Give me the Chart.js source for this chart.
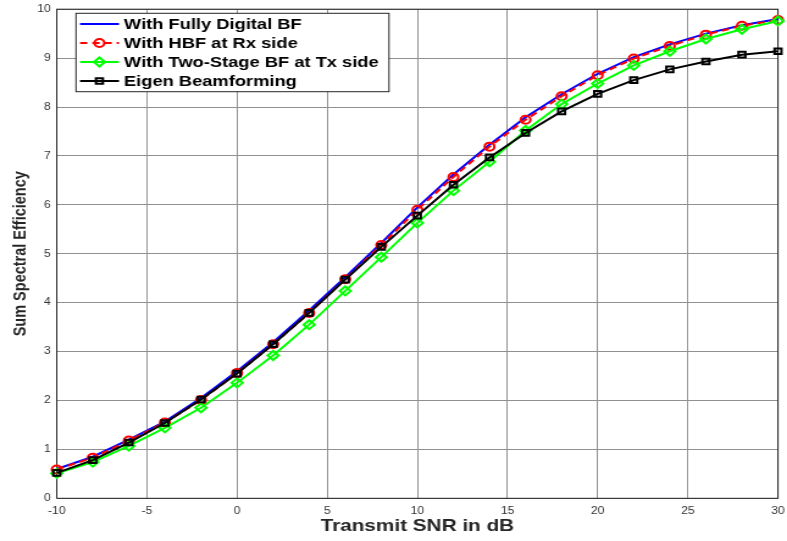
<!DOCTYPE html>
<html>
<head>
<meta charset="utf-8">
<script src="https://cdn.jsdelivr.net/npm/chart.js@4.4.0/dist/chart.umd.min.js"></script>
<style>
  html, body { margin: 0; padding: 0; background: #fff; overflow: hidden; }
  /* the reference figure is stretched sideways, so draw narrower and widen */
  #wrap { width: 645px; height: 541px; transform: scale(1.2202, 1); transform-origin: 0 0; }
</style>
</head>
<body>
<div id="wrap"><canvas id="chart" width="645" height="541"></canvas></div>
<script>
// data
const snr = [-10, -8, -6, -4, -2, 0, 2, 4, 6, 8, 10, 12, 14, 16, 18, 20, 22, 24, 26, 28, 30];
const fullyDigital = [0.60, 0.85, 1.20, 1.57, 2.05, 2.60, 3.19, 3.84, 4.52, 5.22, 5.95, 6.62, 7.23, 7.79, 8.26, 8.68, 9.02, 9.28, 9.50, 9.67, 9.80];
const hbfRx = [0.59, 0.83, 1.18, 1.55, 2.01, 2.56, 3.15, 3.79, 4.48, 5.18, 5.90, 6.57, 7.19, 7.74, 8.22, 8.65, 8.99, 9.25, 9.48, 9.66, 9.78];
const twoStageTx = [0.51, 0.74, 1.07, 1.44, 1.85, 2.36, 2.92, 3.55, 4.24, 4.93, 5.63, 6.29, 6.88, 7.52, 8.06, 8.48, 8.85, 9.14, 9.39, 9.59, 9.76];
const eigenBf = [0.52, 0.78, 1.14, 1.54, 2.02, 2.55, 3.15, 3.79, 4.47, 5.14, 5.78, 6.41, 6.97, 7.47, 7.91, 8.27, 8.55, 8.77, 8.93, 9.07, 9.14];

const xTicks = [-10, -5, 0, 5, 10, 15, 20, 25, 30];
const yTicks = [0, 1, 2, 3, 4, 5, 6, 7, 8, 9, 10];

const seriesNames = ['With Fully Digital BF', 'With HBF at Rx side', 'With Two-Stage BF at Tx side', 'Eigen Beamforming'];

const toPts = (ys) => ys.map((y, i) => ({ x: snr[i], y: y }));

const series = [
  { label: seriesNames[0], data: toPts(fullyDigital), color: '#0000ff', style: false, radius: 0, dash: [], order: 4 },
  { label: seriesNames[1], data: toPts(hbfRx), color: '#ff0000', style: 'circle', radius: 4, dash: [6, 4], order: 3 },
  { label: seriesNames[2], data: toPts(twoStageTx), color: '#00ff00', style: 'rectRot', radius: 4.5, dash: [], order: 2 },
  { label: seriesNames[3], data: toPts(eigenBf), color: '#000000', style: 'rect', radius: 4, dash: [], order: 1 }
];

function drawMarker(ctx, style, x, y, r) {
  ctx.beginPath();
  if (style === 'circle') {
    ctx.arc(x, y, r, 0, Math.PI * 2);
  } else if (style === 'rectRot') {
    ctx.moveTo(x - r, y); ctx.lineTo(x, y - r); ctx.lineTo(x + r, y); ctx.lineTo(x, y + r); ctx.closePath();
  } else if (style === 'rect') {
    const s = r * Math.SQRT1_2;
    ctx.rect(x - s, y - s, 2 * s, 2 * s);
  }
  ctx.stroke();
}

// axes box + legend inside the plot
const frameLegend = {
  id: 'frameLegend',
  beforeDatasetsDraw(chart) {
    const { ctx, chartArea: a } = chart;
    ctx.save();
    ctx.strokeStyle = '#262626';
    ctx.lineWidth = 1;
    ctx.strokeRect(a.left, a.top, a.right - a.left, a.bottom - a.top);
    ctx.restore();
  },
  afterDraw(chart) {
    const ctx = chart.ctx;
    const bx = 62.3, by = 13.3, bw = 256.5, bh = 78.4;
    ctx.save();
    ctx.fillStyle = '#fff';
    ctx.fillRect(bx, by, bw, bh);
    ctx.strokeStyle = '#262626';
    ctx.lineWidth = 1;
    ctx.strokeRect(bx, by, bw, bh);
    ctx.font = 'bold 15px "Liberation Sans", Arial, sans-serif';
    ctx.textBaseline = 'middle';
    series.forEach((s, i) => {
      const y = by + 10.7 + i * 19;
      ctx.strokeStyle = s.color;
      ctx.lineWidth = 2;
      ctx.setLineDash(s.dash);
      ctx.beginPath();
      ctx.moveTo(bx + 3.3, y);
      ctx.lineTo(bx + 35.2, y);
      ctx.stroke();
      ctx.setLineDash([]);
      if (s.style) drawMarker(ctx, s.style, bx + 19.2, y, s.radius);
      ctx.fillStyle = '#000';
      ctx.fillText(s.label, bx + 39.3, y + 1);
    });
    ctx.restore();
  }
};

const tickFont = { family: '"Liberation Sans", Arial, sans-serif', size: 10 };
const titleFont = { family: '"Liberation Sans", Arial, sans-serif', weight: 'bold' };

new Chart(document.getElementById('chart'), {
  type: 'line',
  data: {
    datasets: series.map(s => ({
      label: s.label,
      data: s.data,
      borderColor: s.color,
      borderWidth: 2,
      borderDash: s.dash,
      pointStyle: s.style,
      pointRadius: s.radius,
      pointBorderWidth: 2,
      pointBorderColor: s.color,
      pointBackgroundColor: 'rgba(0,0,0,0)',
      tension: 0,
      fill: false,
      clip: false,
      order: s.order
    }))
  },
  options: {
    responsive: false,
    animation: false,
    layout: { padding: { left: 0, right: 7.4, top: 9.2, bottom: 0 } },
    plugins: {
      legend: { display: false },
      tooltip: { enabled: false }
    },
    scales: {
      x: {
        type: 'linear',
        min: xTicks[0],
        max: xTicks[xTicks.length - 1],
        afterBuildTicks: (axis) => { axis.ticks = xTicks.map(v => ({ value: v })); },
        afterFit: (axis) => { axis.height = 42.7; axis.paddingLeft = 0; axis.paddingRight = 0; },
        ticks: { color: '#333', font: tickFont, padding: 7, maxRotation: 0 },
        grid: { color: '#909090', lineWidth: 1, drawTicks: false },
        border: { display: false },
        title: {
          display: true,
          text: 'Transmit SNR in dB',
          color: '#262626',
          font: { ...titleFont, size: 17 },
          padding: { top: 0, bottom: 4.6 }
        }
      },
      y: {
        type: 'linear',
        min: yTicks[0],
        max: yTicks[yTicks.length - 1],
        afterBuildTicks: (axis) => { axis.ticks = yTicks.map(v => ({ value: v })); },
        afterFit: (axis) => { axis.width = 46.5; axis.paddingTop = 0; axis.paddingBottom = 0; },
        ticks: { color: '#333', font: tickFont, padding: 5 },
        grid: { color: '#909090', lineWidth: 1, drawTicks: false },
        border: { display: false },
        title: {
          display: true,
          text: 'Sum Spectral Efficiency',
          color: '#262626',
          font: { ...titleFont, size: 14.5 },
          padding: { top: 8.2, bottom: 0 }
        }
      }
    }
  },
  plugins: [frameLegend]
});
</script>
</body>
</html>
